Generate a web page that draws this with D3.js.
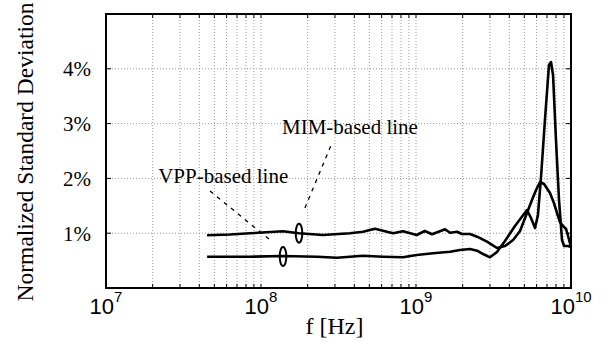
<!DOCTYPE html>
<html><head><meta charset="utf-8">
<script src="https://cdn.jsdelivr.net/npm/d3@7"></script>
<style>body{margin:0;background:#fff}
.serif{font-family:"Liberation Serif","Times New Roman",serif}
.sans{font-family:"Liberation Sans",Arial,sans-serif}
</style>
</head><body>
<svg id="c" width="611" height="343"></svg>
<script>
// ---- data ----
const mimFreq = [4.49e7,6.31e7,8.49e7,1.387e8,1.759e8,2.51e8,3.75e8,4.55e8,5.44e8,6.12e8,7.11e8,8.24e8,1.01e9,1.14e9,1.27e9,1.54e9,1.66e9,1.84e9,1.98e9,2.23e9,2.48e9,2.87e9,3.33e9,3.75e9,4.23e9,4.69e9,5.20e9,5.60e9,5.95e9,6.31e9,6.70e9,7.32e9,7.76e9,8.12e9,8.49e9,8.88e9,9.29e9,9.57e9,1e10];
const mimVal  = [0.962,0.976,0.998,1.035,0.998,0.967,0.998,1.027,1.082,1.046,0.998,1.035,0.967,1.040,0.980,1.071,1.009,1.027,0.985,0.985,0.936,0.845,0.730,0.766,0.876,1.040,1.369,1.606,1.788,1.934,1.898,1.734,1.551,1.369,1.204,1.131,1.077,0.949,0.748];
const vppFreq = [4.49e7,8.49e7,1.366e8,2.30e8,3.09e8,4.55e8,6.12e8,8.24e8,1.01e9,1.29e9,1.66e9,1.92e9,2.23e9,2.48e9,2.71e9,3.00e9,3.33e9,3.75e9,4.35e9,5.20e9,5.52e9,5.86e9,6.12e9,6.40e9,6.79e9,7.21e9,7.43e9,7.66e9,8.00e9,8.37e9,8.75e9,9.02e9,9.57e9,1e10];
const vppVal  = [0.571,0.571,0.584,0.571,0.553,0.589,0.571,0.560,0.602,0.633,0.662,0.693,0.712,0.681,0.620,0.560,0.657,0.858,1.131,1.423,1.277,1.095,1.332,2.007,3.066,4.069,4.124,3.887,2.701,1.606,0.876,0.766,0.766,0.748];
const yTicks = [1,2,3,4];
const yTickLabels = ["1%","2%","3%","4%"];
const xMajor = [1e7,1e8,1e9,1e10];
const xExponents = ["7","8","9","10"];
const labelTexts = ["MIM-based line","VPP-based line"];
const labelAnchor = [[1.366e8,2.81],[2.17e7,1.916]];
const leaderLines = [[[1.92e8,1.460],[2.87e8,2.646]],[[4.69e7,1.770],[1.143e8,0.876]]];
const ellipseAt = [[1.759e8,1.0],[1.387e8,0.575]];

// ---- layout ----
const L=106,R=571,T=14,B=288;
const svg=d3.select("#c");
const x=d3.scaleLog().domain([1e7,1e10]).range([L,R]);
const y=d3.scaleLinear().domain([0,5]).range([B,T]);

const xMinor=[];
for(let d=7;d<10;d++){for(let k=1;k<10;k++){xMinor.push(k*Math.pow(10,d));}}
xMinor.push(1e10);

// grid
const g=svg.append("g");
g.selectAll(".gx").data(xMinor.filter(v=>v>1e7&&v<1e10)).enter().append("line")
 .attr("x1",d=>x(d)).attr("x2",d=>x(d)).attr("y1",T).attr("y2",B)
 .attr("stroke","#9a9a9a").attr("stroke-width",1).attr("stroke-dasharray","1,2");
g.selectAll(".gy").data(yTicks).enter().append("line")
 .attr("x1",L).attr("x2",R).attr("y1",d=>y(d)).attr("y2",d=>y(d))
 .attr("stroke","#9a9a9a").attr("stroke-width",1).attr("stroke-dasharray","1,2");

// ticks (inward, all four sides)
const tk=svg.append("g").attr("stroke","#000").attr("stroke-width",1);
xMinor.forEach(v=>{
  tk.append("line").attr("x1",x(v)).attr("x2",x(v)).attr("y1",B).attr("y2",B-4);
  tk.append("line").attr("x1",x(v)).attr("x2",x(v)).attr("y1",T).attr("y2",T+4);
});
yTicks.forEach(v=>{
  tk.append("line").attr("x1",L).attr("x2",L+5).attr("y1",y(v)).attr("y2",y(v));
  tk.append("line").attr("x1",R).attr("x2",R-5).attr("y1",y(v)).attr("y2",y(v));
});

// box
svg.append("rect").attr("x",L).attr("y",T).attr("width",R-L).attr("height",B-T)
 .attr("fill","none").attr("stroke","#000").attr("stroke-width",2);

// lines
const line=d3.line().x(d=>x(d[0])).y(d=>y(d[1])).curve(d3.curveLinear);
[[mimFreq,mimVal],[vppFreq,vppVal]].forEach(([f,v])=>{
  svg.append("path").datum(f.map((ff,i)=>[ff,v[i]])).attr("d",line)
   .attr("fill","none").attr("stroke","#000").attr("stroke-width",2.6)
   .attr("stroke-linejoin","round");
});

// y tick labels
svg.selectAll(".yl").data(yTicks).enter().append("text").attr("class","serif")
 .attr("x",91).attr("y",d=>y(d)).attr("dy","0.35em").attr("text-anchor","end")
 .attr("font-size",21)
 .text((d,i)=>yTickLabels[i]);

// x tick labels with superscript
xMajor.forEach((v,i)=>{
  const t=svg.append("text").attr("class","sans").attr("x",x(v)).attr("y",314).attr("text-anchor","middle")
   .attr("font-size",22);
  t.append("tspan").text("10");
  t.append("tspan").attr("dy",-12).attr("font-size",15).text(xExponents[i]);
});

// axis titles
svg.append("text").attr("class","serif").attr("x",(L+R)/2-4).attr("y",334).attr("text-anchor","middle")
 .attr("font-size",24).text("f [Hz]");
svg.append("text").attr("class","serif").attr("transform","translate(33,152) rotate(-90)").attr("text-anchor","middle")
 .attr("font-size",23.5).text("Normalized Standard Deviation");

// annotations
labelTexts.forEach((s,i)=>{
  svg.append("text").attr("class","serif").attr("x",x(labelAnchor[i][0])).attr("y",y(labelAnchor[i][1]))
   .attr("font-size",21).text(s);
  const ll=leaderLines[i];
  svg.append("line").attr("x1",x(ll[0][0])).attr("y1",y(ll[0][1])).attr("x2",x(ll[1][0])).attr("y2",y(ll[1][1]))
   .attr("stroke","#000").attr("stroke-width",1.3).attr("stroke-dasharray","4,5");
  svg.append("ellipse").attr("cx",x(ellipseAt[i][0])).attr("cy",y(ellipseAt[i][1])).attr("rx",3.3).attr("ry",9.5)
   .attr("fill","none").attr("stroke","#000").attr("stroke-width",2);
});
</script>
</body></html>
